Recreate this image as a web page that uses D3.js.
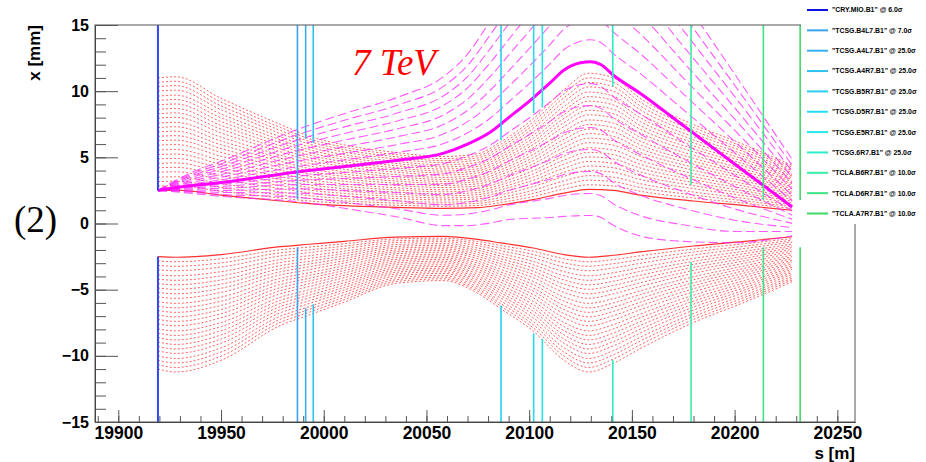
<!DOCTYPE html>
<html><head><meta charset="utf-8">
<script src="https://cdn.jsdelivr.net/npm/d3@7"></script>
<style>body{margin:0;background:#fff;overflow:hidden}svg{display:block}</style>
</head><body>
<svg id="chart" width="926" height="462"></svg>
<script>
// ---------- data ----------
// beam envelope (6 sigma, crystal setting) along s [m]
const sEnv = [19919.3, 19928, 19950, 19979, 19993, 20010, 20035, 20058, 20075, 20086, 20102, 20117, 20129, 20141, 20154, 20180, 20205, 20228];
const envUpper6 = [2.50, 2.52, 2.15, 1.70, 1.50, 1.35, 1.22, 1.15, 1.20, 1.40, 1.80, 2.30, 2.58, 2.50, 2.15, 1.70, 1.35, 1.00];
const envLower6 = [-2.50, -2.55, -2.35, -1.75, -1.57, -1.35, -1.03, -0.98, -1.20, -1.46, -1.85, -2.35, -2.55, -2.40, -2.15, -1.70, -1.35, -1.00];
const sigmaLevels = [6.0, 6.8, 7.6, 8.4, 9.3, 10.1, 10.9, 11.7, 12.5, 13.3, 14.2, 15.0, 15.8, 16.6, 17.4, 18.2, 19.1, 19.9, 20.7, 21.5, 22.3, 23.1, 24.0, 24.8, 25.6, 26.4];

// channeled trajectory and deflection fan
const sTraj = [19919.3, 19935, 19950, 19987, 20010, 20037, 20058, 20070, 20081, 20090, 20102, 20110, 20117, 20125, 20130, 20135, 20141, 20154, 20175, 20200, 20228];
const trajMain = [2.5, 2.85, 3.1, 3.9, 4.3, 4.8, 5.3, 6.0, 6.9, 8.0, 9.5, 10.6, 11.6, 12.15, 12.23, 12.0, 11.2, 9.84, 7.4, 4.5, 1.25];
const spreadUp = [0, 0.12, 0.2, 0.4, 0.5, 0.6, 0.72, 0.85, 1.05, 1.18, 1.35, 1.45, 1.55, 1.62, 1.66, 1.66, 1.63, 1.5, 1.2, 0.85, 0.45];
const spreadDown = [0, 0.08, 0.15, 0.32, 0.45, 0.62, 0.78, 0.88, 0.98, 1.1, 1.3, 1.45, 1.58, 1.65, 1.66, 1.65, 1.62, 1.54, 1.25, 0.85, 0.31];
const deflUp = [1, 2, 3, 4, 5, 6, 7, 8];
const deflDown = [1, 2, 3, 4, 5, 6, 7];

// collimators
const collNames = ["CRY.MIO.B1", "TCSG.B4L7.B1", "TCSG.A4L7.B1", "TCSG.A4R7.B1", "TCSG.B5R7.B1", "TCSG.D5R7.B1", "TCSG.E5R7.B1", "TCSG.6R7.B1", "TCLA.B6R7.B1", "TCLA.D6R7.B1", "TCLA.A7R7.B1"];
const collSigma = ["6.0", "7.0", "25.0", "25.0", "25.0", "25.0", "25.0", "25.0", "10.0", "10.0", "10.0"];
const collS = [19919.3, 19987.2, 19991.2, 19994.9, 20086.3, 20102.2, 20106.4, 20140.7, 20178.8, 20214.0, 20231.9];
const collUpper = [2.5, 1.85, 6.4, 6.1, 6.3, 8.33, 8.78, 10.35, 2.9, 1.78, 1.78];
const collLower = [-2.5, -1.8, -6.4, -6.1, -6.2, -8.3, -8.73, -10.3, -2.9, -1.8, -1.8];
const collColors = ["#2e48f5", "#3aa2ee", "#38b0f0", "#30c0f0", "#28d0f0", "#26dcf0", "#22e8ea", "#2eeec8", "#3aeca4", "#3ee484", "#3ed866"];

const xMajor = [19900, 19950, 20000, 20050, 20100, 20150, 20200, 20250];
const xMinor = d3.range(19890, 20260, 10);
const yMajor = [-15, -10, -5, 0, 5, 10, 15];
const yMinor = d3.range(-15, 16, 1);

// ---------- drawing ----------
const svg = d3.select("#chart");
const L = 95, R = 855, T = 25, B = 422;
const x = d3.scaleLinear().domain([19888.66, 20258.6]).range([L, R]);
const y = d3.scaleLinear().domain([-15, 15]).range([B, T]);

svg.append("defs").append("clipPath").attr("id", "clip")
  .append("rect").attr("x", L).attr("y", T).attr("width", R - L).attr("height", B - T);

const plot = svg.append("g").attr("clip-path", "url(#clip)");
const line = d3.line().x(d => x(d[0])).y(d => y(d[1])).curve(d3.curveMonotoneX);

// envelope dotted lines
sigmaLevels.forEach((lv, k) => {
  if (k === 0) return;
  [envUpper6, envLower6].forEach(arr => {
    const pts = sEnv.map((s, i) => [s, arr[i] * lv / 6]);
    plot.append("path").attr("d", line(pts)).attr("fill", "none")
      .attr("stroke", "#ff3b3b").attr("stroke-opacity", 0.8).attr("stroke-width", 1)
      .attr("stroke-dasharray", "2,2");
  });
});
// envelope solid (crystal level)
[envUpper6, envLower6].forEach(arr => {
  plot.append("path").attr("d", line(sEnv.map((s, i) => [s, arr[i]]))).attr("fill", "none")
    .attr("stroke", "#ff3030").attr("stroke-width", 1.2);
});

// deflection fan (dashed magenta)
deflUp.forEach(d => {
  const pts = sTraj.map((s, i) => [s, trajMain[i] + d * spreadUp[i]]);
  plot.append("path").attr("d", line(pts)).attr("fill", "none")
    .attr("stroke", "#ff22ff").attr("stroke-opacity", 0.75).attr("stroke-width", 1.1)
    .attr("stroke-dasharray", "9,4");
});
deflDown.forEach(d => {
  const pts = sTraj.map((s, i) => [s, trajMain[i] - d * spreadDown[i]]);
  plot.append("path").attr("d", line(pts)).attr("fill", "none")
    .attr("stroke", "#ff22ff").attr("stroke-opacity", 0.75).attr("stroke-width", 1.1)
    .attr("stroke-dasharray", "9,4");
});
// channeled trajectory
plot.append("path").attr("d", line(sTraj.map((s, i) => [s, trajMain[i]]))).attr("fill", "none")
  .attr("stroke", "#ff00ff").attr("stroke-width", 3);

// collimator jaws
collS.forEach((s, i) => {
  const w = i === 0 ? 2 : 1.6;
  plot.append("line").attr("x1", x(s)).attr("x2", x(s)).attr("y1", y(15)).attr("y2", y(collUpper[i]))
    .attr("stroke", collColors[i]).attr("stroke-width", w);
  plot.append("line").attr("x1", x(s)).attr("x2", x(s)).attr("y1", y(collLower[i])).attr("y2", y(-15))
    .attr("stroke", collColors[i]).attr("stroke-width", w);
});

// frame
svg.append("rect").attr("x", L).attr("y", T).attr("width", R - L).attr("height", B - T)
  .attr("fill", "none").attr("stroke", "#555").attr("stroke-width", 1);

// axes
const font = "'Liberation Sans', Arial, Helvetica, sans-serif";
const gx = svg.append("g").attr("transform", `translate(0,${B})`);
gx.call(d3.axisBottom(x).tickValues(xMinor).tickSize(-6).tickSizeOuter(0).tickFormat(""));
gx.append("g").call(d3.axisBottom(x).tickValues(xMajor).tickSize(-12).tickSizeOuter(0).tickPadding(5).tickFormat(d3.format("d")));
gx.selectAll(".domain").attr("stroke", "#444");
gx.selectAll("line").attr("stroke", "#555");
gx.selectAll("text").attr("font-family", font).attr("font-weight", "bold").attr("font-size", 17.5).attr("fill", "#000");

const gy = svg.append("g").attr("transform", `translate(${L},0)`);
gy.call(d3.axisLeft(y).tickValues(yMinor).tickSize(-11).tickSizeOuter(0).tickFormat(""));
gy.append("g").call(d3.axisLeft(y).tickValues(yMajor).tickSize(-23).tickSizeOuter(0).tickPadding(6).tickFormat(d3.format("d")));
gy.selectAll(".domain").attr("stroke", "#444");
gy.selectAll("line").attr("stroke", "#555");
gy.selectAll("text").attr("font-family", font).attr("font-weight", "bold").attr("font-size", 16).attr("fill", "#000");

svg.append("text").attr("x", R).attr("y", 459).attr("text-anchor", "end")
  .attr("font-family", font).attr("font-weight", "bold").attr("font-size", 17).text("s [m]");
svg.append("text").attr("transform", "translate(40,25) rotate(-90)").attr("text-anchor", "end")
  .attr("font-family", font).attr("font-weight", "bold").attr("font-size", 17).text("x [mm]");

// annotations
svg.append("text").attr("x", 352).attr("y", 75).attr("font-family", "'Liberation Serif', 'Times New Roman', serif")
  .attr("font-style", "italic").attr("font-size", 37).attr("fill", "#ff0000").text("7 TeV");
svg.append("text").attr("x", 14).attr("y", 232).attr("font-family", "'Liberation Serif', 'Times New Roman', serif")
  .attr("font-size", 37).attr("fill", "#000").text("(2)");

// legend
const lg = svg.append("g");
lg.append("rect").attr("x", 801).attr("y", 0).attr("width", 125).attr("height", 224).attr("fill", "#fff");
collNames.forEach((n, i) => {
  const yy = 10 + i * 20.35;
  lg.append("line").attr("x1", 807).attr("x2", 828).attr("y1", yy).attr("y2", yy)
    .attr("stroke", i === 0 ? "#0a14e0" : collColors[i]).attr("stroke-width", 2);
  lg.append("text").attr("x", 832).attr("y", yy).attr("dy", "0.35em")
    .attr("font-family", font).attr("font-weight", "bold").attr("font-size", 6.9).attr("fill", "#000")
    .text(`"${n}" @ ${collSigma[i]}\u03C3`);
});
</script>
</body></html>
